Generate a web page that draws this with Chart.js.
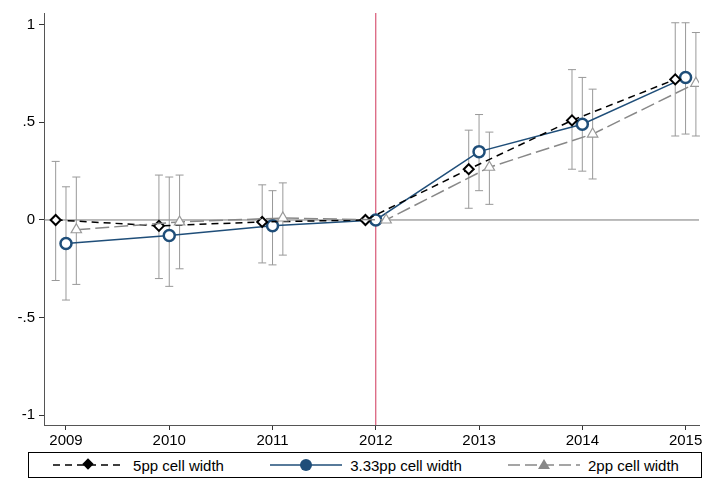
<!DOCTYPE html>
<html>
<head>
<meta charset="UTF-8">
<script src="https://cdn.jsdelivr.net/npm/chart.js"></script>
<style>
body{margin:0;background:#fff;font-family:"Liberation Sans",Arial,sans-serif;}
#wrap{position:absolute;left:0;top:0;width:707px;height:452px;}
#legend{position:absolute;left:28px;top:452px;width:672px;height:24px;border:1px solid #000;display:flex;align-items:center;justify-content:space-around;font-size:15px;}
#legend span{display:flex;align-items:center;gap:6px;}
</style>
</head>
<body>
<div id="wrap"><canvas id="c"></canvas></div>
<div id="legend">
<span><svg width="76" height="14"><line x1="2" y1="7" x2="74" y2="7" stroke="#000" stroke-width="1.5" stroke-dasharray="7,5"/><rect x="33" y="2" width="8" height="8" transform="rotate(45 37 6)" fill="#000"/></svg>5pp cell width</span>
<span><svg width="76" height="14"><line x1="2" y1="7" x2="74" y2="7" stroke="#1f4e79" stroke-width="1.5"/><circle cx="38" cy="7" r="6" fill="#1f4e79"/></svg>3.33pp cell width</span>
<span><svg width="76" height="14"><line x1="2" y1="7" x2="74" y2="7" stroke="#888" stroke-width="1.5" stroke-dasharray="12,5"/><polygon points="38,1 44,11 32,11" fill="#888"/></svg>2pp cell width</span>
</div>
<script>
const years = [2009, 2010, 2011, 2012, 2013, 2014, 2015];
const est5 = [0, -0.03, -0.01, 0, 0.26, 0.51, 0.72];
const hi5 = [0.30, 0.23, 0.18, 0, 0.46, 0.77, 1.01];
const lo5 = [-0.31, -0.30, -0.22, 0, 0.06, 0.26, 0.43];
const est33 = [-0.12, -0.08, -0.03, 0, 0.35, 0.49, 0.73];
const hi33 = [0.17, 0.22, 0.15, 0, 0.54, 0.73, 1.01];
const lo33 = [-0.41, -0.34, -0.23, 0, 0.15, 0.25, 0.44];
const est2 = [-0.05, -0.01, 0.01, 0, 0.27, 0.44, 0.70];
const hi2 = [0.22, 0.23, 0.19, 0, 0.45, 0.67, 0.96];
const lo2 = [-0.33, -0.25, -0.18, 0, 0.08, 0.21, 0.43];
const shift = 0.1;

const pts = (arr, off) => years.map((y, i) => ({x: y + off, y: arr[i]}));

const errBars = {
  id: 'errBars',
  beforeDatasetsDraw(chart) {
    const {ctx, scales: {x, y}, chartArea} = chart;
    ctx.save();
    ctx.strokeStyle = '#777'; ctx.lineWidth = 1;
    ctx.beginPath(); ctx.moveTo(chartArea.left, y.getPixelForValue(0)); ctx.lineTo(chartArea.right, y.getPixelForValue(0)); ctx.stroke();
    ctx.strokeStyle = '#d0365a';
    ctx.beginPath(); ctx.moveTo(x.getPixelForValue(2012), chartArea.top); ctx.lineTo(x.getPixelForValue(2012), chartArea.bottom); ctx.stroke();
    ctx.strokeStyle = '#999';
    [[hi5, lo5, -shift], [hi33, lo33, 0], [hi2, lo2, shift]].forEach(([hi, lo, off]) => {
      years.forEach((yr, i) => {
        if (hi[i] === lo[i]) return;
        const px = x.getPixelForValue(yr + off);
        const a = y.getPixelForValue(hi[i]), b = y.getPixelForValue(lo[i]);
        ctx.beginPath();
        ctx.moveTo(px, a); ctx.lineTo(px, b);
        ctx.moveTo(px - 4, a); ctx.lineTo(px + 4, a);
        ctx.moveTo(px - 4, b); ctx.lineTo(px + 4, b);
        ctx.stroke();
      });
    });
    ctx.restore();
  }
};

new Chart(document.getElementById('c'), {
  type: 'line',
  data: {
    datasets: [
      {data: pts(est2, shift), borderColor: '#888', borderDash: [14, 5], borderWidth: 1.5,
       pointStyle: 'triangle', pointRadius: 6, pointBackgroundColor: '#fff', pointBorderColor: '#999', pointBorderWidth: 1.2},
      {data: pts(est5, -shift), borderColor: '#000', borderDash: [7, 5], borderWidth: 1.5,
       pointStyle: 'rectRot', pointRadius: 5, pointBackgroundColor: '#fff', pointBorderColor: '#000', pointBorderWidth: 2},
      {data: pts(est33, 0), borderColor: '#1f4e79', borderWidth: 1.5,
       pointStyle: 'circle', pointRadius: 5.5, pointBackgroundColor: '#fff', pointBorderColor: '#1f4e79', pointBorderWidth: 2.5}
    ]
  },
  options: {
    responsive: true, maintainAspectRatio: false, animation: false,
    layout: {padding: {top: 8, right: 0}},
    plugins: {legend: {display: false}, tooltip: {enabled: false}},
    scales: {
      x: {type: 'linear', min: 2008.787, max: 2015.13,
          grid: {drawOnChartArea: false, tickLength: 5, color: '#333'}, border: {color: '#555'},
          ticks: {autoSkip: false, maxRotation: 0, padding: 2, color: '#000', font: {size: 15, family: 'Liberation Sans'},
                  callback: v => String(v)},
          afterBuildTicks: s => { s.ticks = years.map(v => ({value: v})); }},
      y: {min: -1.05, max: 1.06,
          afterFit: s => { s.width = 44; },
          afterBuildTicks: s => { s.ticks = [-1, -0.5, 0, 0.5, 1].map(v => ({value: v})); },
          grid: {drawOnChartArea: false, tickLength: 5, color: '#333'}, border: {color: '#555'},
          ticks: {color: '#000', padding: 4, font: {size: 15, family: 'Liberation Sans'},
                  callback: v => ({'-1': '-1', '-0.5': '-.5', '0': '0', '0.5': '.5', '1': '1'})[String(v)]}}
    }
  },
  plugins: [errBars]
});
</script>
</body>
</html>
